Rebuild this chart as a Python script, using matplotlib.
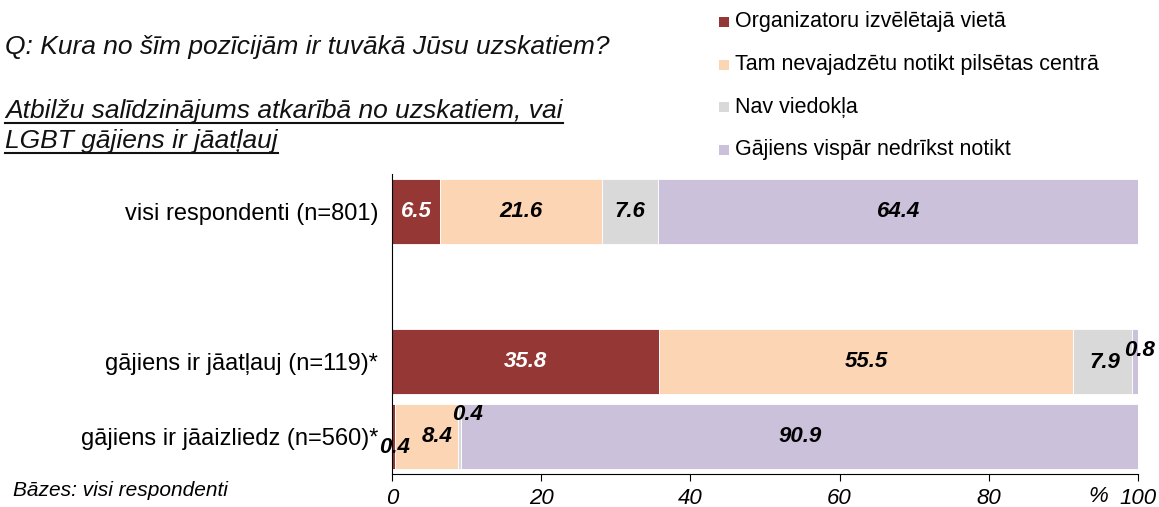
import matplotlib

matplotlib.use("Agg")
import matplotlib.pyplot as plt
from matplotlib.lines import Line2D
from matplotlib.patches import Rectangle

plt.rcParams["font.family"] = ["Liberation Sans", "DejaVu Sans"]

# --- dati ---
KATEGORIJAS = [
    "visi respondenti (n=801)",
    "gājiens ir jāatļauj (n=119)*",
    "gājiens ir jāaizliedz (n=560)*",
]
Y_POZ = [0, 2, 3]
SERIJAS = [
    "Organizatoru izvēlētajā vietā",
    "Tam nevajadzētu notikt pilsētas centrā",
    "Nav viedokļa",
    "Gājiens vispār nedrīkst notikt",
]
ORGANIZATORU_VIETA = [6.5, 35.8, 0.4]
NE_CENTRA = [21.6, 55.5, 8.4]
NAV_VIEDOKLA = [7.6, 7.9, 0.4]
NEDRIKST = [64.4, 0.8, 90.9]
X_TICKI = [0, 20, 40, 60, 80, 100]

KRASAS = ["#953735", "#FCD5B5", "#D9D9D9", "#CCC1DA"]
TEKSTA_KRASAS = ["white", "black", "black", "black"]

# mazo segmentu etiķešu nobīdes (punktos): (sērija, rinda) -> (dx, dy)
NOBIDES = {
    (0, 2): (1, -8),
    (1, 2): (8, 0),
    (2, 2): (6, 16),
    (2, 1): (2, -1),
    (3, 1): (3, 8),
}

fig = plt.figure(figsize=(11.59, 5.07), dpi=100)
ax = fig.add_axes([392 / 1159, 33 / 507, 746 / 1159, 300 / 507])

vertibas = [ORGANIZATORU_VIETA, NE_CENTRA, NAV_VIEDOKLA, NEDRIKST]
kreisais = [0.0] * len(KATEGORIJAS)
for s, (vals, krasa) in enumerate(zip(vertibas, KRASAS)):
    ax.barh(Y_POZ, vals, left=kreisais, height=0.87, color=krasa,
            edgecolor="white", linewidth=0.6)
    for r, (v, l) in enumerate(zip(vals, kreisais)):
        dx, dy = NOBIDES.get((s, r), (0, 0))
        # etiķete ārpus segmenta vienmēr melna
        krasa_txt = "black" if dy else TEKSTA_KRASAS[s]
        ax.annotate(f"{v:.1f}", (l + v / 2, Y_POZ[r]), xytext=(dx, dy),
                    textcoords="offset points", ha="center", va="center",
                    fontsize=16, fontweight="bold", fontstyle="italic",
                    color=krasa_txt)
    kreisais = [l + v for l, v in zip(kreisais, vals)]

ax.set_xlim(0, 100)
ax.set_ylim(3.5, -0.5)
ax.set_yticks(Y_POZ)
ax.set_yticklabels(KATEGORIJAS, fontsize=17)
ax.tick_params(axis="y", length=0, pad=10)
ax.set_xticks(X_TICKI)
ax.set_xticklabels([str(t) for t in X_TICKI], fontsize=16, fontstyle="italic")
ax.tick_params(axis="x", length=5, width=0.8, direction="out", pad=5)
for side in ["top", "right"]:
    ax.spines[side].set_visible(False)
ax.text(0.947, -0.075, "%", transform=ax.transAxes, ha="center", va="center",
        fontsize=16, fontstyle="italic")

# leģenda
for i, (nosaukums, krasa) in enumerate(zip(SERIJAS, KRASAS)):
    yc = 1 - (22 + i * 42.5) / 507
    fig.add_artist(Rectangle((719 / 1159, yc - 5 / 507), 10 / 1159, 10 / 507,
                             transform=fig.transFigure, color=krasa, lw=0))
    fig.text(735 / 1159, yc, nosaukums, ha="left", va="center", fontsize=15.5)

# virsraksti
fig.text(5 / 1159, 1 - 47 / 507, "Q: Kura no šīm pozīcijām ir tuvākā Jūsu uzskatiem?",
         ha="left", va="center", fontsize=19, fontstyle="italic", color="#111111")
apakš = []
for teksts, yb in [("Atbilžu salīdzinājums atkarībā no uzskatiem, vai", 118),
                   ("LGBT gājiens ir jāatļauj", 148)]:
    apakš.append(fig.text(5 / 1159, 1 - yb / 507, teksts, ha="left", va="baseline",
                          fontsize=19, fontstyle="italic", color="#111111"))
fig.text(13 / 1159, 1 - 490 / 507, "Bāzes: visi respondenti", ha="left", va="center",
         fontsize=15, fontstyle="italic")

# pasvītrojums zem apakšvirsraksta
fig.canvas.draw()
renderer = fig.canvas.get_renderer()
for t, yb in zip(apakš, [118, 148]):
    bb = t.get_window_extent(renderer)
    yl = 1 - (yb + 5) / 507
    fig.add_artist(Line2D([bb.x0 / 1159, bb.x1 / 1159], [yl, yl],
                          transform=fig.transFigure, color="#111111", lw=1.5))

fig.savefig("out.png", dpi=100)
